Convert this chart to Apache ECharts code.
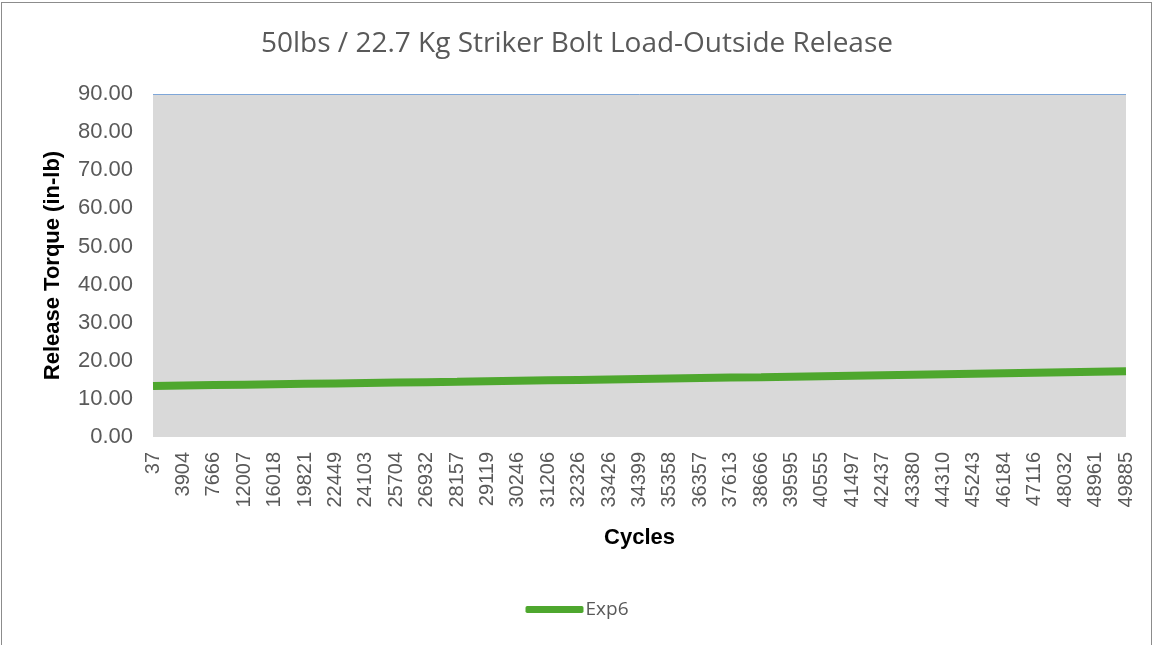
<!DOCTYPE html>
<html>
<head>
	<meta charset="utf-8">
	<title>Striker Bolt Load</title>
	<style>
		body { margin: 0; background: #fff; }
		#main { position: absolute; left: 0; top: 0; width: 1154px; height: 645px; }
		#frame { position: absolute; left: 1px; top: 2px; width: 1149px; height: 660px; border: 1px solid #8c8c8c; pointer-events: none; }
	</style>
</head>
<body>
	<div id="main"></div>
	<div id="frame"></div>
<script src="https://cdn.jsdelivr.net/npm/echarts@6/dist/echarts.min.js"></script>
<script>
	// x categories (cycle counts shown on the axis)
	var cycles = ['37','3904','7666','12007','16018','19821','22449','24103','25704','26932','28157','29119','30246','31206','32326','33426','34399','35358','36357','37613','38666','39595','40555','41497','42437','43380','44310','45243','46184','47116','48032','48961','49885'];
	// release torque
	var exp6 = [13.40,13.51,13.62,13.73,13.84,13.95,14.06,14.17,14.28,14.39,14.50,14.62,14.74,14.86,14.98,15.10,15.22,15.34,15.46,15.58,15.70,15.83,15.96,16.09,16.22,16.35,16.48,16.61,16.74,16.87,17.00,17.13,17.26];

	var chart = echarts.init(document.getElementById('main'));
	// only the top gridline (90) is visible, in light blue
	var gridLines = [];
	for (var i = 0; i < 9; i++) gridLines.push('rgba(0,0,0,0)');
	gridLines.push('#7ea6d8');

	var option = {
		animation: false,
		title: {
			text: '50lbs / 22.7 Kg Striker Bolt Load-Outside Release',
			left: 'center',
			top: 25,
			textStyle: { fontFamily: 'Open Sans', fontWeight: 'normal', fontSize: 28, color: '#595959' }
		},
		legend: {
			data: ['Exp6'],
			left: 'center',
			top: 595,
			icon: 'roundRect',
			itemWidth: 58,
			itemHeight: 7,
			itemGap: 4,
			textStyle: { fontFamily: 'Open Sans', fontSize: 19, color: '#595959', padding: [0, 0, 0, -3] }
		},
		grid: {
			left: 153, right: 28, top: 94, bottom: 208,
			show: true,
			backgroundColor: '#d9d9d9',
			borderWidth: 0
		},
		xAxis: {
			type: 'category',
			data: cycles,
			boundaryGap: false,
			name: 'Cycles',
			nameLocation: 'middle',
			nameGap: 90,
			nameTextStyle: { fontFamily: 'Liberation Sans', fontWeight: 'bold', fontSize: 22, color: '#000' },
			axisLine: { show: false },
			axisTick: { show: false },
			splitLine: { show: false },
			axisLabel: { rotate: 90, interval: 0, margin: 15, fontFamily: 'Liberation Sans', fontSize: 20, color: '#595959' }
		},
		yAxis: {
			type: 'value',
			min: 0,
			max: 90,
			interval: 10,
			name: 'Release Torque (in-lb)',
			nameLocation: 'middle',
			nameGap: 89,
			nameTextStyle: { fontFamily: 'Liberation Sans', fontWeight: 'bold', fontSize: 22, color: '#000' },
			axisLine: { show: false },
			axisTick: { show: false },
			splitLine: { show: true, lineStyle: { color: gridLines, width: 1 } },
			axisLabel: {
				margin: 20,
				fontFamily: 'Liberation Sans',
				fontSize: 22,
				color: '#595959',
				formatter: function (v) { return v.toFixed(2); }
			}
		},
		series: [{
			name: 'Exp6',
			type: 'line',
			data: exp6,
			symbol: 'none',
			lineStyle: { width: 8, color: '#4ea72e' },
			itemStyle: { color: '#4ea72e' }
		}]
	};
	chart.setOption(option);
</script>
</body>
</html>
